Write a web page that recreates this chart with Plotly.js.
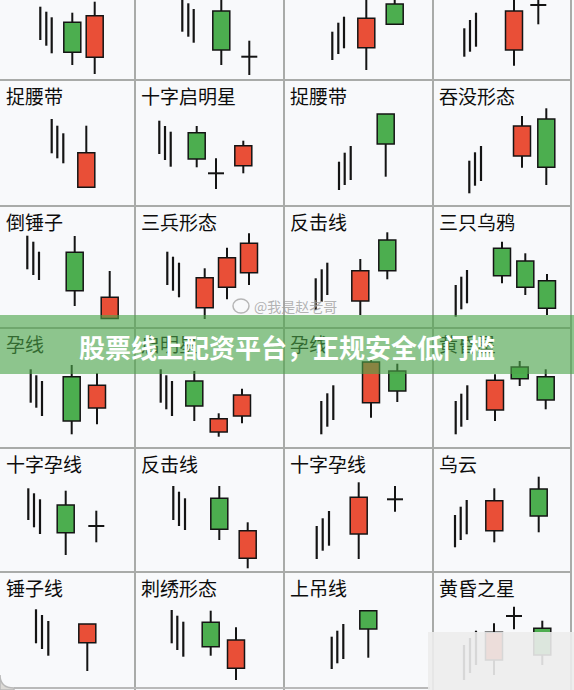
<!DOCTYPE html>
<html><head><meta charset="utf-8">
<script src="https://cdn.plot.ly/plotly-3.0.1.min.js"></script>
<style>html,body{margin:0;padding:0;background:#f8f9fb;} #chart{width:574px;height:690px;}</style>
</head><body><div id="chart"></div>
<script>
// ---- data: one entry per cell (row-major, 4 columns x 6 rows) ----
const patternNames = ['', '', '', '',
  '捉腰带', '十字启明星', '捉腰带', '吞没形态',
  '倒锤子', '三兵形态', '反击线', '三只乌鸦',
  '孕线', '启明星', '孕线', '黄昏星',
  '十字孕线', '反击线', '十字孕线', '乌云',
  '锤子线', '刺绣形态', '上吊线', '黄昏之星'];

// trend strokes ("|||") preceding each pattern
const strokeX = [
  [40.3,46.3,51.7],[47.3,53.3,58.7],[48.3,54.3,60],[31.3,37,43],
  [51.7,57.3,63.3],[24.3,30,35.7],[55,60.7,66.7],[36.3,42,48],
  [27.3,33.3,39],[32.3,38,44],[31.7,37.7,43.3],[22.7,28.3,34],
  [30.7,36.3,42],[25.7,31.3,37],[37.3,43.3,49.3],[22.7,28.3,34.3],
  [28.3,34,40],[38.3,44,50],[32.7,38.7,45],[22,27.7,33.7],
  [36,42,48.3],[36.7,42.3,48.3],[47.7,53.3,59.3],[31,37,43]];
const strokeHigh = [
  [73.3,68.3,62.7],[84,76.7,71],[48.3,57.3,63.3],[51.7,60,67.3],
  [87,80.3,72.7],[85.3,80,74.3],[44.3,53.3,60],[45.3,53.7,60],
  [92.3,86.3,76.3],[76.3,71.3,65.3],[49.7,58.7,65.3],[43,51.3,58],
  [78.7,72.7,67],[78.7,72.7,67],[47,54.7,62.7],[47,54.3,62.7],
  [83.7,78.7,72.7],[86,80.3,73.7],[46,53.7,61],[57,65.3,72],
  [80.7,75,69],[80,74.3,68.3],[53.3,59.3,66],[45,52,59.3]];
const strokeLow = [
  [40,34.3,26.7],[48.3,43.3,37.3],[20,26,31.7],[23.3,28.3,33.3],
  [52.7,47.7,42.7],[52,46,39.3],[16,21,26],[12.7,20.3,25],
  [58.7,53,48],[43,37.3,30.7],[18,26.3,33],[11.3,18.7,24.7],
  [45.3,40.3,32],[45.3,38.7,32],[13.7,21.3,28],[13.7,21.3,28],
  [52,44.7,38],[52,46,42],[13,21.3,26.3],[24.7,32,37.7],
  [46.7,41,34.3],[46.7,40,33.3],[21,26.7,31],[10,17,25]];

// candles of each pattern (open == close draws a doji cross)
const candleX = [
  [72.3,94.7],[86.3,114.3],[82.3,110.7],[81,105.3],
  [86.3],[61.7,81,108.3],[101.7],[89,113.3],
  [74.7,109.7],[69.7,92,114],[76.3,103.3],[69,92.3,114],
  [71.7,97],[59.3,83.7,107],[87,113.3],[62,86.7,112.7],
  [65.7,96.3],[84.3,112.7],[74.7,111],[61.3,105.7],
  [87.3],[75.7,101],[84.3],[61,81,109.3]];
const candleOpen = [
  [57.7,22.7],[69,23.3],[32.3,76],[30,75],
  [18.7],[73.3,32.7,40.3],[92],[50,87],
  [75.7,9.5],[20.3,40.7,55.3],[27,88],[79.7,67,47.3],
  [71.3,40],[67,16,32],[45.3,77],[38,81,71.3],
  [67,46],[73.7,13.7],[38,72.7],[41.3,83],
  [47.3],[67.7,21.7],[79.3],[30,74,61.7]];
const candleHigh = [
  [67.3,78.3],[86,39.3],[86,86],[86,86],
  [80.3],[80,47.7,65.3],[92],[90,97.7],
  [92,57],[59.7,80.3,94.7],[69,95.7],[86.3,74.7,54],
  [83,74.7],[77,34.7,59.3],[90.3,84.3],[73.7,87,78.7],
  [81.3,61.3],[86,49.7],[89.7,86],[83.7,95.3],
  [66],[79.3,62.7],[79.3],[66.7,83.3,69.3]];
const candleLow = [
  [15,6],[15,5],[10,55.7],[14.3,55.7],
  [18.7],[38.7,17,32.7],[29.3],[38.3,21],
  [22,9.5],[9,28.7,43],[13,48.7],[44.7,33,13],
  [13.7,23.7],[27,11.3,24.7],[30.3,46],[27,62,38.7],
  [17,29.7],[32,3.7],[13,60.3],[29.7,39.7],
  [19],[34.3,10],[32.3],[15,60.7,25]];
const candleClose = [
  [27.7,64.3],[30,23.3],[61.7,55.7],[69,75],
  [53.3],[47,32.7,60.3],[62],[80,38.7],
  [37.3,30.7],[50.3,70.3,84.7],[57.3,57.3],[52.3,40.7,19.7],
  [27,62.7],[42,29.3,53],[86,57],[67.7,69.3,48],
  [39.3,46],[42.7,41.3],[74.7,72.7],[71.3,56],
  [66],[43.3,50],[61],[57.7,74,35]];

const bannerText = '股票线上配资平台，正规安全低门槛';
const watermarkText = '@我是赵老哥';

// ---- layout constants ----
const W = 574, H = 690;
const colEdges = [0, 135, 284, 433, 574];
const rowEdges = [0, 80, 206, 328, 448, 572, 690];
const RED = '#e94f37', GREEN = '#4cae4f', INK = '#141414', GRID = '#a9aba9';
const BODY_W = 17, DOJI_W = 16;
const FONT = '"Noto Sans CJK SC", "Noto Sans", sans-serif';
const px = x => x / W, py = y => 1 - y / H;

const traces = [];
const layout = {
  width: W, height: H, margin: {l:0, r:0, t:0, b:0},
  paper_bgcolor: '#f8f9fb', plot_bgcolor: 'rgba(0,0,0,0)',
  showlegend: false, barmode: 'overlay', hovermode: false,
  shapes: [], annotations: []
};

for (let i = 0; i < 24; i++) {
  const r = Math.floor(i / 4), c = i % 4;
  const n = i + 1, s = n === 1 ? '' : String(n);
  const xa = 'x' + s, ya = 'y' + s;
  const w = colEdges[c + 1] - colEdges[c], h = rowEdges[r + 1] - rowEdges[r];
  layout['xaxis' + s] = {domain: [px(colEdges[c]), px(colEdges[c + 1])], range: [0, w], visible: false, fixedrange: true, anchor: ya};
  layout['yaxis' + s] = {domain: [py(rowEdges[r + 1]), py(rowEdges[r])], range: [0, h], visible: false, fixedrange: true, anchor: xa};

  // trend strokes
  const sx = [], sy = [];
  strokeX[i].forEach((x, k) => { sx.push(x, x, null); sy.push(strokeLow[i][k], strokeHigh[i][k], null); });
  traces.push({type: 'scatter', mode: 'lines', x: sx, y: sy, xaxis: xa, yaxis: ya,
    line: {color: INK, width: 2.2}, hoverinfo: 'skip'});

  // wicks, doji crosses, bodies
  const wx = [], wy = [], bx = [], bb = [], bh = [], bc = [];
  candleX[i].forEach((x, k) => {
    const o = candleOpen[i][k], hi = candleHigh[i][k], lo = candleLow[i][k], cl = candleClose[i][k];
    const top = Math.max(o, cl), bot = Math.min(o, cl);
    if (o === cl) {
      wx.push(x, x, null, x - DOJI_W / 2, x + DOJI_W / 2, null);
      wy.push(lo, hi, null, o, o, null);
    } else {
      if (hi > top) { wx.push(x, x, null); wy.push(top, hi, null); }
      if (lo < bot) { wx.push(x, x, null); wy.push(lo, bot, null); }
      bx.push(x); bb.push(bot); bh.push(top - bot); bc.push(cl > o ? RED : GREEN);
    }
  });
  traces.push({type: 'scatter', mode: 'lines', x: wx, y: wy, xaxis: xa, yaxis: ya,
    line: {color: INK, width: 2}, hoverinfo: 'skip'});
  if (bx.length) {
    traces.push({type: 'bar', x: bx, y: bh, base: bb, width: BODY_W, xaxis: xa, yaxis: ya,
      marker: {color: bc, line: {color: INK, width: 1.5}}, hoverinfo: 'skip'});
  }
  if (patternNames[i]) {
    traces.push({type: 'scatter', mode: 'text', x: [6], y: [h - 19], text: [patternNames[i]],
      textposition: 'middle right', cliponaxis: false, xaxis: xa, yaxis: ya,
      textfont: {family: FONT, size: 19, color: '#0d0d0d'}, hoverinfo: 'skip'});
  }
}

// grid lines
[135, 284, 433, 571].forEach(x => layout.shapes.push({type: 'line', xref: 'paper', yref: 'paper',
  x0: px(x), x1: px(x), y0: 0, y1: 1, line: {color: GRID, width: 2}, layer: 'below'}));
[80, 206, 328, 448, 572].forEach(y => layout.shapes.push({type: 'line', xref: 'paper', yref: 'paper',
  x0: 0, x1: px(571), y0: py(y), y1: py(y), line: {color: GRID, width: 2}, layer: 'below'}));
// bottom edge and rounded corner
layout.shapes.push({type: 'line', xref: 'paper', yref: 'paper', x0: px(14), x1: px(430), y0: py(688), y1: py(688),
  line: {color: '#b9b9b9', width: 2}, layer: 'above'});
layout.shapes.push({type: 'path', xref: 'paper', yref: 'paper', layer: 'above',
  path: `M ${px(0)},${py(675)} Q ${px(0)},${py(688)} ${px(14)},${py(688)} L ${px(14)},${py(690)} L ${px(0)},${py(690)} Z`,
  fillcolor: '#dcdad6', line: {color: '#b9b9b9', width: 1.5}});
// green banner
layout.shapes.push({type: 'rect', xref: 'paper', yref: 'paper', x0: 0, x1: 1, y0: py(374), y1: py(315),
  fillcolor: 'rgba(76,165,72,0.62)', line: {width: 0}, layer: 'above'});
// blurred corner patch
layout.shapes.push({type: 'rect', xref: 'paper', yref: 'paper', x0: px(428), x1: 1, y0: 0, y1: py(632),
  fillcolor: 'rgba(236,236,236,0.9)', line: {width: 0}, layer: 'above'});
// weibo logo
layout.shapes.push({type: 'circle', xref: 'paper', yref: 'paper', x0: px(233), x1: px(249), y0: py(313), y1: py(299),
  line: {color: 'rgba(165,165,165,0.8)', width: 1.5}, layer: 'above'});

layout.annotations.push({xref: 'paper', yref: 'paper', x: 0.5, y: py(346), xanchor: 'center', yanchor: 'middle',
  text: '<b>' + bannerText + '</b>', showarrow: false, font: {family: FONT, size: 26, color: '#ffffff'}});
layout.annotations.push({xref: 'paper', yref: 'paper', x: px(252), y: py(306), xanchor: 'left', yanchor: 'middle',
  text: watermarkText, showarrow: false, font: {family: FONT, size: 14, color: 'rgba(160,160,160,0.8)'}});

Plotly.newPlot('chart', traces, layout, {staticPlot: true, displayModeBar: false});
</script>
</body></html>
